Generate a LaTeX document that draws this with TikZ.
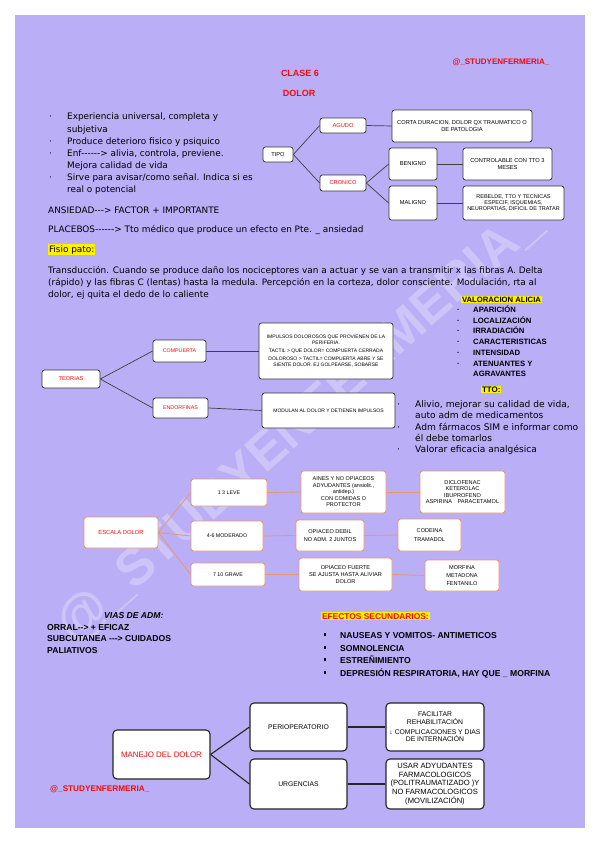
\documentclass[tikz,border=0pt]{standalone}
\usepackage{fontspec}
\setmainfont{Liberation Sans}
\newfontfamily\dvfont{DejaVu Sans}
\definecolor{lav}{RGB}{186,174,246}
\definecolor{redt}{RGB}{238,12,12}
\definecolor{esc}{RGB}{232,150,112}
\begin{document}
\begin{tikzpicture}[x=1pt,y=-1pt,
  body/.style={anchor=base west,inner sep=0pt,font=\dvfont\fontsize{8.9}{11}\selectfont},
  bodyb/.style={anchor=base west,inner sep=0pt,font=\dvfont\fontsize{9.1}{11}\selectfont},
  capb/.style={anchor=base west,inner sep=0pt,font=\bfseries\fontsize{7.7}{9}\selectfont},
  capc/.style={anchor=base west,inner sep=0pt,font=\bfseries\fontsize{8.6}{10}\selectfont},
  hilite/.style={fill=yellow,inner sep=0.8pt},
  redh/.style={text=redt,font=\bfseries\fontsize{9}{10}\selectfont,inner sep=0pt},
  box/.style={draw=black!80,fill=white,rounded corners=2.5pt,line width=0.7pt,inner sep=1pt,align=center,font=\fontsize{5.7}{6.8}\selectfont},
  wire/.style={draw=black!75,line width=0.7pt},
  tbox/.style={box,font=\fontsize{5}{5.8}\selectfont},
  ebox/.style={box,draw=esc,line width=0.9pt,font=\fontsize{5.6}{6.6}\selectfont},
  ewire/.style={draw=esc,line width=0.8pt},
  mbox/.style={box,draw=black!85,line width=1.1pt,rounded corners=4pt,font=\fontsize{6.8}{7.8}\selectfont},
  mwire/.style={draw=black!85,line width=1.1pt}
]
\useasboundingbox (0,0) rectangle (599,848);
\fill[white] (0,0) rectangle (599,848);
\fill[lav] (15,15) rectangle (585,828);

% watermark
\node[rotate=41.6,text=white,opacity=0.28,font=\bfseries\fontsize{52}{52}\selectfont] (wm) at (300,425) {@\_STUDYENFERMERIA\_};

% header
\node[redh,font=\bfseries\fontsize{8}{9}\selectfont] (tag1) at (501,62) {@\_STUDYENFERMERIA\_};
\node[redh] (clase) at (300,73) {CLASE 6};
\node[redh] (dolor) at (299,93) {DOLOR};

% left list
\foreach \yy in {120,144,156,180} \node[body] at (49,\yy) {·};
\node[body] (l1) at (67,120) {Experiencia universal, completa y};
\node[body] (l2) at (67,132) {subjetiva};
\node[body] (l3) at (67,144) {Produce deterioro fisico y psiquico};
\node[body] (l4) at (67,156) {Enf-{}-{}-{}-{}-{}-> alivia, controla, previene.};
\node[body] (l5) at (67,168) {Mejora calidad de vida};
\node[body] (l6) at (67,180) {Sirve para avisar/como señal. Indica si es};
\node[body] (l7) at (67,192) {real o potencial};
\node[body] (ans) at (48,213) {ANSIEDAD-{}-{}-> FACTOR + IMPORTANTE};
\node[body] (plac) at (48,232) {PLACEBOS-{}-{}-{}-{}-{}-> Tto médico que produce un efecto en Pte. \_ ansiedad};
\node[body,hilite] (fisio) at (48,252) {Fisio pato:};
\node[body] (p1) at (48,273) {Transducción. Cuando se produce daño los nociceptores van a actuar y se van a transmitir x las fibras A. Delta};
\node[body] (p2) at (48,285) {(rápido) y las fibras C (lentas) hasta la medula. Percepción en la corteza, dolor consciente. Modulación, rta al};
\node[body] (p3) at (48,297) {dolor, ej quita el dedo de lo caliente};

% TIPO diagram
\node[box,minimum width=30pt,minimum height=15pt] (tipo) at (278,154.5) {TIPO};
\node[box,minimum width=46pt,minimum height=15pt,text=redt] (agudo) at (343,125.5) {AGUDO};
\node[box,minimum width=140pt,minimum height=32pt] (corta) at (462,126) {CORTA DURACION. DOLOR QX TRAUMATICO O\\DE PATOLOGIA};
\node[box,minimum width=46pt,minimum height=16pt,text=redt] (cronico) at (343,183) {CRONICO};
\node[box,minimum width=48pt,minimum height=32pt] (benigno) at (413,164) {BENIGNO};
\node[box,minimum width=89pt,minimum height=32pt] (control) at (507.5,164) {CONTROLABLE CON TTO 3\\MESES};
\node[box,minimum width=48pt,minimum height=34pt] (maligno) at (413,203) {MALIGNO};
\node[box,minimum width=101pt,minimum height=34pt,inner sep=0.5pt,font=\fontsize{5.5}{6.2}\selectfont] (rebelde) at (513.5,203) {REBELDE, TTO Y TECNICAS\\ESPECIF, ISQUEMIAS,\\NEUROPATIAS, DIFICIL DE TRATAR};
\draw[wire] (tipo.east) -- (agudo.west);
\draw[wire] (tipo.east) -- (cronico.west);
\draw[wire] (agudo.east) -- (corta.west);
\draw[wire] (cronico.east) -- (benigno.west);
\draw[wire] (cronico.east) -- (maligno.west);
\draw[wire] (benigno.east) -- (control.west);
\draw[wire] (maligno.east) -- (rebelde.west);

% Valoracion
\node[capb,hilite] (val) at (461,302.5) {VALORACION ALICIA};
\foreach \yy/\tt [count=\i] in {312.5/APARICIÓN,323.5/LOCALIZACIÓN,333.5/IRRADIACIÓN,344.5/CARACTERISTICAS,355.5/INTENSIDAD,366.5/ATENUANTES Y}
  {\node[capb] at (457,\yy) {·}; \node[capb] (v\i) at (473,\yy) {\tt};}
\node[capb] (v7) at (473,376.5) {AGRAVANTES};
\node[capb,hilite,font=\bfseries\fontsize{8}{9}\selectfont] (tto) at (481,392) {TTO:};
\foreach \yy in {407.5,430.5,452.5} \node[bodyb] at (397,\yy) {·};
\node[bodyb] (a1) at (415,407.5) {Alivio, mejorar su calidad de vida,};
\node[bodyb] (a2) at (415,418.5) {auto adm de medicamentos};
\node[bodyb] (a3) at (415,430.5) {Adm fármacos SIM e informar como};
\node[bodyb] (a4) at (415,441.5) {él debe tomarlos};
\node[bodyb] (a5) at (415,452.5) {Valorar eficacia analgésica};

% Teorias
\node[box,minimum width=58pt,minimum height=18pt,text=redt,font=\fontsize{5.6}{6}\selectfont] (teorias) at (71,379) {TEORIAS};
\node[box,minimum width=53pt,minimum height=22pt,text=redt,font=\fontsize{5.3}{6}\selectfont] (compuerta) at (179.5,351) {COMPUERTA};
\node[box,minimum width=55pt,minimum height=20pt,text=redt,font=\fontsize{5.3}{6}\selectfont] (endorf) at (180.5,408) {ENDORFINAS};
\node[tbox,minimum width=134pt,minimum height=56pt] (cdesc) at (326,351) {IMPULSOS DOLOROSOS QUE PROVIENEN DE LA\\PERIFERIA.\\[2pt]TACTIL > QUE DOLOR= COMPUERTA CERRADA\\[2pt]DOLOROSO > TACTIL= COMPUERTA ABRE Y SE\\SIENTE DOLOR. EJ GOLPEARSE, SOBARSE};
\node[tbox,minimum width=133pt,minimum height=35pt] (modulan) at (328.5,410.5) {MODULAN AL DOLOR Y DETIENEN IMPULSOS};
\draw[wire] (teorias.east) -- (compuerta.west);
\draw[wire] (teorias.east) -- (endorf.west);
\draw[wire] (compuerta.east) -- (cdesc.west);
\draw[wire] (endorf.east) -- (modulan.west);

% Escala
\node[ebox,minimum width=74pt,minimum height=31pt,text=redt,font=\fontsize{5.8}{6.5}\selectfont] (escala) at (121,532.5) {ESCALA DOLOR};
\node[ebox,minimum width=76pt,minimum height=27pt,font=\fontsize{5.3}{6.2}\selectfont] (leve) at (229,492.5) {1 3 LEVE};
\node[ebox,minimum width=72pt,minimum height=30pt,font=\fontsize{5.3}{6.2}\selectfont] (moder) at (227,536) {4-6 MODERADO};
\node[ebox,minimum width=74pt,minimum height=23pt,font=\fontsize{5.3}{6.2}\selectfont] (grave) at (228,574.5) {7 10 GRAVE};
\node[ebox,minimum width=85pt,minimum height=42pt,inner sep=0.5pt,font=\fontsize{5.5}{6.3}\selectfont] (aines) at (343.5,492) {AINES Y NO OPIACEOS\\ADYUDANTES (ansiolit.,\\antidep.)\\[1pt]CON COMIDAS O\\PROTECTOR};
\node[ebox,minimum width=68pt,minimum height=31pt] (debil) at (330,535.5) {OPIACEO DEBIL\\[2pt]NO ADM. 2 JUNTOS};
\node[ebox,minimum width=93pt,minimum height=33pt] (fuerte) at (345.5,574.5) {OPIACEO FUERTE\\[1pt]SE AJUSTA HASTA ALIVIAR\\DOLOR};
\node[ebox,minimum width=85pt,minimum height=42pt] (diclo) at (462.5,492) {DICLOFENAC\\KETEROLAC\\IBUPROFENO\\ASPIRINA\quad PARACETAMOL};
\node[ebox,minimum width=63pt,minimum height=32pt] (codeina) at (429.5,535) {CODEINA\\[2pt]TRAMADOL};
\node[ebox,minimum width=74pt,minimum height=31pt] (morfina) at (462,575.5) {MORFINA\\[1pt]METADONA\\[1pt]FENTANILO};
\draw[ewire] (escala.east) -- (leve.west);
\draw[ewire] (escala.east) -- (moder.west);
\draw[ewire] (escala.east) -- (grave.west);
\draw[ewire] (leve.east) -- (aines.west);
\draw[ewire] (moder.east) -- (debil.west);
\draw[ewire] (grave.east) -- (fuerte.west);
\draw[ewire] (aines.east) -- (diclo.west);
\draw[ewire] (debil.east) -- (codeina.west);
\draw[ewire] (fuerte.east) -- (morfina.west);

% Vias de adm
\node[capc,font=\bfseries\itshape\fontsize{8.6}{10}\selectfont] (vias) at (104,618) {VIAS DE ADM:};
\node[capc] (o1) at (47,630) {ORRAL-{}-> + EFICAZ};
\node[capc] (o2) at (47,641) {SUBCUTANEA -{}-{}-> CUIDADOS};
\node[capc] (o3) at (47,653) {PALIATIVOS};

% Efectos
\node[capc,hilite,text=redt,font=\bfseries\fontsize{8.4}{10}\selectfont] (efec) at (321,619) {EFECTOS SECUNDARIOS:};
\foreach \yy/\tt [count=\i] in {638/NAUSEAS Y VOMITOS- ANTIMETICOS,651/SOMNOLENCIA,663/ESTREÑIMIENTO,676/{DEPRESIÓN RESPIRATORIA, HAY QUE \_ MORFINA}}
  {\fill (323.5,\yy-4.6) rectangle ++(2.8,2.8); \node[capc] (e\i) at (340,\yy) {\tt};}

% Manejo
\node[mbox,minimum width=97pt,minimum height=49pt,text=redt,font=\fontsize{7.9}{8.5}\selectfont] (manejo) at (161.5,754.5) {MANEJO DEL DOLOR};
\node[mbox,minimum width=97pt,minimum height=48pt] (perio) at (298.5,727) {PERIOPERATORIO};
\node[mbox,minimum width=97pt,minimum height=50pt] (urg) at (298.5,784) {URGENCIAS};
\node[mbox,minimum width=98pt,minimum height=48pt,inner sep=0.5pt,font=\fontsize{6.8}{7.6}\selectfont] (facil) at (435,727) {FACILITAR\\REHABILITACIÓN\\[2pt]↓ COMPLICACIONES Y DIAS\\DE INTERNACIÓN};
\node[mbox,minimum width=98pt,minimum height=50pt,inner sep=0.5pt,font=\fontsize{7.6}{8.6}\selectfont] (usar) at (435,784) {USAR ADYUDANTES\\FARMACOLOGICOS\\(POLITRAUMATIZADO )Y\\NO FARMACOLOGICOS\\(MOVILIZACIÓN)};
\draw[mwire] (manejo.east) -- (perio.west);
\draw[mwire] (manejo.east) -- (urg.west);
\draw[mwire] (perio.east) -- (facil.west);
\draw[mwire] (urg.east) -- (usar.west);

\node[redh,font=\bfseries\fontsize{8.2}{9}\selectfont,anchor=west] (tag2) at (50,789) {@\_STUDYENFERMERIA\_};
\end{tikzpicture}
\end{document}
